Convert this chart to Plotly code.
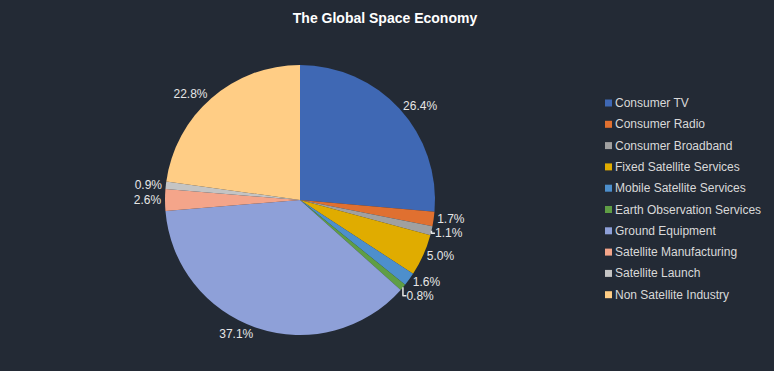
import plotly.graph_objects as go

categories = ["Consumer TV", "Consumer Radio", "Consumer Broadband", "Fixed Satellite Services",
              "Mobile Satellite Services", "Earth Observation Services", "Ground Equipment",
              "Satellite Manufacturing", "Satellite Launch", "Non Satellite Industry"]
shares = [26.4, 1.7, 1.1, 5.0, 1.6, 0.8, 37.1, 2.6, 0.9, 22.8]
colors = ["#3f68b4", "#e07030", "#a0a0a0", "#e0ac00", "#4d8fcc", "#5f9e45",
          "#8ea0d8", "#f4a58a", "#c4c4c4", "#ffcd85"]

W, H = 774, 371
cx, cy, r = 300, 200, 135
FONT = "Liberation Sans, Arial, sans-serif"

fig = go.Figure(go.Pie(
    labels=categories,
    values=shares,
    sort=False,
    direction="clockwise",
    rotation=0,
    marker=dict(colors=colors, line=dict(width=0)),
    texttemplate="%{percent:.1%}",
    textposition="outside",
    outsidetextfont=dict(color="#e6e6e6", size=12, family=FONT),
    hoverinfo="label+percent",
    domain=dict(x=[(cx - r) / W, (cx + r) / W], y=[1 - (cy + r) / H, 1 - (cy - r) / H]),
    automargin=False,
    showlegend=False,
))

# Custom legend (compact swatch + label), built from the category/color lists
leg_x, leg_y0, leg_dy, sw = 605, 103, 21.3, 7
shapes, annots = [], []
for i, (name, col) in enumerate(zip(categories, colors)):
    yc = leg_y0 + i * leg_dy
    shapes.append(dict(type="rect", xref="paper", yref="paper",
                       x0=leg_x / W, x1=(leg_x + sw) / W,
                       y0=1 - (yc + sw / 2) / H, y1=1 - (yc - sw / 2) / H,
                       fillcolor=col, line=dict(width=0)))
    annots.append(dict(xref="paper", yref="paper", x=(leg_x + sw + 1) / W, y=1 - yc / H,
                       xanchor="left", yanchor="middle", showarrow=False, text=name,
                       font=dict(color="#d9d9d9", size=12, family=FONT)))

fig.update_layout(
    width=W, height=H,
    paper_bgcolor="#232a35",
    plot_bgcolor="#232a35",
    margin=dict(l=0, r=0, t=0, b=0),
    title=dict(text="<b>The Global Space Economy</b>", x=385 / W, xanchor="center",
               y=1 - 18 / H, yanchor="middle",
               font=dict(color="#ffffff", size=14, family=FONT)),
    shapes=shapes,
    annotations=annots,
    showlegend=False,
)

fig.write_html("out.html", config={"displayModeBar": False},
               post_script="document.body.style.margin='0';document.body.style.overflow='hidden';")
